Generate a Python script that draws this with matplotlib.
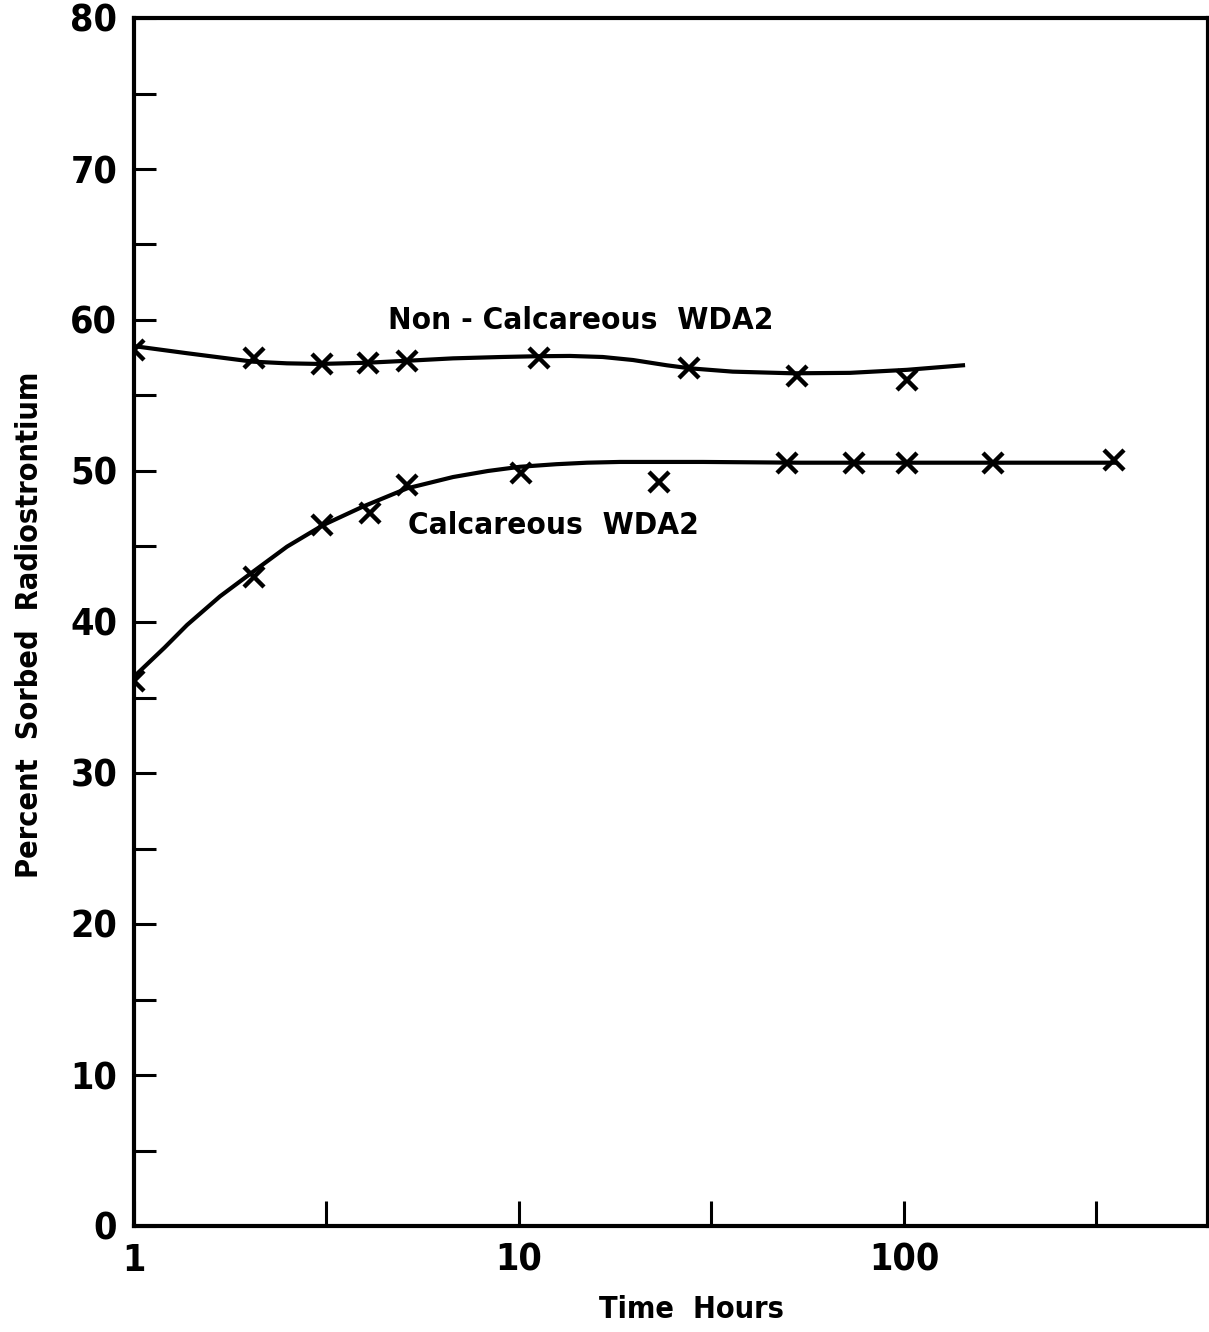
import matplotlib
matplotlib.use("Agg")
import matplotlib.pyplot as plt

# ---- data ----
noncalc_hours = [1.0, 2.05, 3.08, 4.05, 5.12, 11.3, 27.7, 52.7, 102]
noncalc_pct = [58.0, 57.5, 57.1, 57.15, 57.3, 57.5, 56.8, 56.3, 56.0]

calc_hours = [1.0, 2.05, 3.08, 4.1, 5.12, 10.1, 23.1, 49.7, 74, 102, 170, 351]
calc_pct = [36.1, 43.0, 46.4, 47.2, 49.1, 49.9, 49.3, 50.5, 50.5, 50.5, 50.5, 50.7]

# smooth hand-drawn curves
noncalc_curve_hours = [1.0, 1.373, 2.038, 2.497, 3.04, 4.03, 5.12, 6.74, 9.0, 11.14, 13.56,
                       16.5, 19.77, 24.22, 27.8, 35.9, 51.5, 72.4, 101.8, 142.3]
noncalc_curve_pct = [58.27, 57.8, 57.24, 57.13, 57.09, 57.17, 57.3, 57.46, 57.55, 57.6, 57.62,
                     57.55, 57.35, 57.0, 56.8, 56.58, 56.47, 56.5, 56.7, 57.0]

calc_curve_hours = [1.0, 1.2, 1.373, 1.673, 2.038, 2.497, 3.10, 3.93, 5.12, 6.74, 8.3, 10.06,
                    12.5, 15.02, 18.29, 30.0, 53.7, 351]
calc_curve_pct = [36.38, 38.3, 39.8, 41.7, 43.33, 44.99, 46.42, 47.64, 48.85, 49.6, 50.0, 50.28,
                  50.45, 50.55, 50.6, 50.6, 50.55, 50.55]

x_ticks = [1, 3.162, 10, 31.62, 100, 316.2]
x_tick_labels = ["1", "", "10", "", "100", ""]
y_major = [0, 10, 20, 30, 40, 50, 60, 70, 80]
y_minor = [5, 15, 25, 35, 45, 55, 65, 75]

plt.rcParams['font.family'] = ['DejaVu Sans']
plt.rcParams['font.stretch'] = 'condensed'
plt.rcParams['font.weight'] = 'bold'
plt.rcParams['axes.labelweight'] = 'bold'

fig = plt.figure(figsize=(12.09, 13.32), dpi=100)
ax = fig.add_axes([134/1209, 1 - 1226/1332, (1208-134)/1209, (1226-18)/1332])

ax.plot(noncalc_curve_hours, noncalc_curve_pct, color='black', lw=3)
ax.plot(calc_curve_hours, calc_curve_pct, color='black', lw=3)
ax.plot(noncalc_hours, noncalc_pct, 'x', color='black', ms=14, mew=3.2)
ax.plot(calc_hours, calc_pct, 'x', color='black', ms=14, mew=3.2)

ax.set_xscale('log')
ax.set_xlim(1, 616)
ax.set_ylim(0, 80)
ax.set_xticks(x_ticks)
ax.set_xticklabels(x_tick_labels)
ax.xaxis.set_minor_locator(matplotlib.ticker.NullLocator())
ax.set_yticks(y_major)
ax.set_yticks(y_minor, minor=True)

ax.tick_params(axis='both', which='both', direction='in', width=2.2, colors='black')
ax.tick_params(axis='y', which='both', length=16, pad=12, labelsize=27)
ax.tick_params(axis='x', which='both', length=18, pad=12, labelsize=27)
ax.tick_params(top=False, right=False)

for s in ax.spines.values():
    s.set_linewidth(3)

ax.set_ylabel("Percent  Sorbed  Radiostrontium", fontsize=22)
ax.set_xlabel("Time  Hours", fontsize=22)
ax.yaxis.set_label_coords((30 - 134) / 1074, (1226 - 625) / 1208)
ax.xaxis.set_label_coords((691 - 134) / 1074, -(1310 - 1226) / 1208)
ax.xaxis.label.set_va('center')
ax.yaxis.label.set_va('center')

ax.text(10**((388-134)/385), 59.95, "Non - Calcareous  WDA2", fontsize=22.6, va='center', ha='left')
ax.text(10**((408-134)/385), 46.4, "Calcareous  WDA2", fontsize=22.6, va='center', ha='left')

fig.savefig("out.png", dpi=100)
